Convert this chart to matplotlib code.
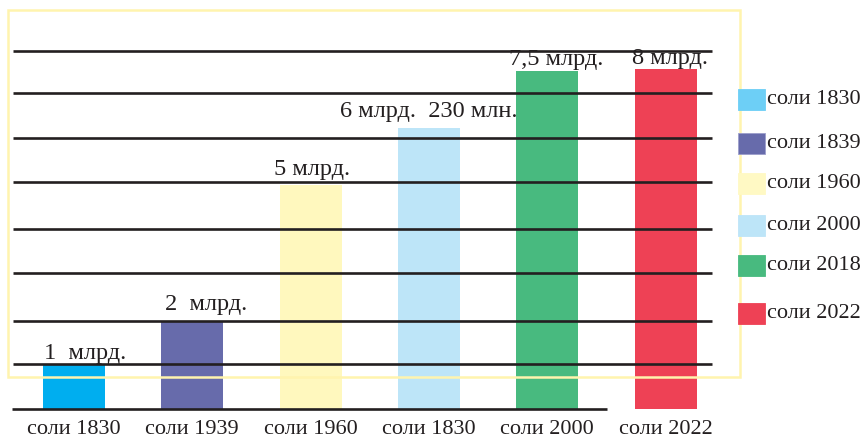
import matplotlib
matplotlib.use("Agg")
import matplotlib.pyplot as plt
from matplotlib.patches import Rectangle

# data (bar heights in grid units, baseline = bottom line)
categories = ["соли 1830", "соли 1939", "соли 1960", "соли 1830", "соли 2000", "соли 2022"]
heights = [1.0, 2.0, 5.09, 6.39, 7.68, 7.73]
value_labels = ["1  млрд.", "2  млрд.", "5 млрд.", "6 млрд.  230 млн.", "7,5 млрд.", "8 млрд."]
bar_colors = ["#00AEEF", "#676BAB", "#FFF8BE", "#BDE5F8", "#48BA7F", "#EE4155"]
legend_labels = ["соли 1830", "соли 1839", "соли 1960", "соли 2000", "соли 2018", "соли 2022"]
legend_colors = ["#6DCFF6", "#676BAB", "#FFF9C4", "#BDE5F8", "#48BA7F", "#EE4155"]
grid_levels = [1.02, 2.0, 3.09, 4.09, 5.16, 6.16, 7.18, 8.14]

W, H = 864, 438
INK = "#231F20"
FONT = "Liberation Serif"
FS = 16

fig = plt.figure(figsize=(W / 100, H / 100), dpi=100)
ax = fig.add_axes([0, 0, 1, 1])
ax.set_axis_off()

# map: bar i centre at 74 + 118.3*i px, value v at 409 - 44*v px
px_per_bar, px_per_unit = 118.3, 44.0
ax.set_xlim(-74 / px_per_bar, (W - 74) / px_per_bar)
ax.set_ylim((409 - H) / px_per_unit, 409 / px_per_unit)


def xpx(p):
    return (p - 74) / px_per_bar


x = list(range(len(categories)))
ax.bar(x, heights, width=62 / px_per_bar, color=bar_colors, zorder=1)

# rules drawn across the bars
ax.hlines(grid_levels, xpx(13), xpx(712), color=INK, linewidth=1.9, zorder=3)
ax.hlines([0], xpx(12), xpx(607), color=INK, linewidth=1.9, zorder=3)

label_dx = [0.09, 0.12, 0.01, 0.0, 0.08, 0.04]
label_dy = [0.14, 0.25, 0.23, 0.25, 0.14, 0.1]
for i, (h, lab) in enumerate(zip(heights, value_labels)):
    ax.text(i + label_dx[i], h + label_dy[i], lab, ha="center", va="baseline",
            fontsize=17.6, family=FONT, color=INK, zorder=4)

for i, cat in enumerate(categories):
    ax.text(i, -0.57, cat, ha="center", va="baseline",
            fontsize=FS, family=FONT, color=INK)

# pale yellow frame over the plot
fig.patches.append(Rectangle((8 / W, 1 - 377 / H), 732 / W, 367 / H,
                             transform=fig.transFigure, fill=False,
                             edgecolor="#FFF4AE", linewidth=1.8, zorder=5))

# legend (swatches sit on top of the frame's right edge)
legend_y = [99, 143, 183, 225, 265, 313]
for yc, lab, col in zip(legend_y, legend_labels, legend_colors):
    edge = "#9C9ECB" if col == "#676BAB" else col
    fig.patches.append(Rectangle((738 / W, 1 - (yc + 10.5) / H), 27 / W, 21 / H,
                                 transform=fig.transFigure, facecolor=col,
                                 edgecolor=edge, linewidth=0.6, zorder=6))
    fig.text(767 / W, 1 - yc / H, lab, ha="left", va="center",
             fontsize=FS, family=FONT, color=INK)

fig.savefig("out.png", dpi=100)
